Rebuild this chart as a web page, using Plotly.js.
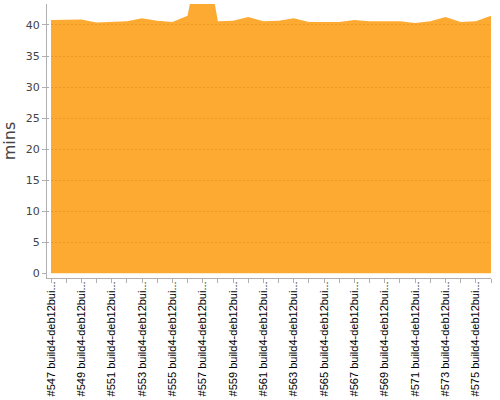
<!DOCTYPE html>
<html>
<head>
<meta charset="utf-8">
<script src="https://cdn.plot.ly/plotly-3.0.1.min.js"></script>
<style>html,body{margin:0;padding:0;background:#fff;}#chart{width:500px;height:400px;}</style>
</head>
<body>
<div id="chart"></div>
<script>
var builds = [547,548,549,550,551,552,553,554,555,556,557,558,559,560,561,562,563,564,565,566,567,568,569,570,571,572,573,574,575,576];
var minutes = [40.8,40.9,40.9,40.4,40.5,40.6,41.1,40.7,40.5,41.5,54,40.6,40.7,41.3,40.6,40.7,41.1,40.5,40.5,40.5,40.8,40.6,40.6,40.6,40.3,40.6,41.3,40.5,40.6,41.5];
var labelSuffix = " build4-deb12bui...";
var gridVals = [5,10,15,20,25,30,35,40];

var idx = builds.map(function(b, i){ return i; });
var tickText = builds.map(function(b, i){ return i % 2 === 0 ? "#" + b + labelSuffix : ""; });

var trace = {
  x: idx,
  y: minutes,
  type: "scatter",
  mode: "lines",
  fill: "tozeroy",
  fillcolor: "rgba(252,149,0,0.8)",
  line: {width: 0, color: "rgba(252,149,0,0.8)"},
  hoverinfo: "skip"
};

var yRange = [-0.757, 43.38];

var layout = {
  width: 500, height: 400,
  margin: {l: 47, r: 9, t: 4, b: 122},
  paper_bgcolor: "#ffffff",
  plot_bgcolor: "#ffffff",
  showlegend: false,
  xaxis: {
    range: [-0.2636, 29],
    tickmode: "array",
    tickvals: idx,
    ticktext: tickText,
    tickangle: -90,
    ticks: "outside",
    ticklen: 4,
    tickcolor: "#b0b0b0",
    showline: true,
    linecolor: "#b0b0b0",
    linewidth: 1,
    showgrid: false,
    zeroline: false,
    ticklabelstandoff: -6,
    tickfont: {family: "Liberation Sans, Arial, sans-serif", size: 11, color: "#000000"}
  },
  yaxis: {
    range: yRange,
    tickmode: "linear",
    tick0: 0,
    dtick: 5,
    ticks: "outside",
    ticklen: 4,
    tickcolor: "#b0b0b0",
    showline: true,
    linecolor: "#b0b0b0",
    linewidth: 1,
    showgrid: false,
    zeroline: false,
    tickfont: {family: "DejaVu Sans, sans-serif", size: 11, color: "#444444"},
    title: {text: "mins", font: {family: "DejaVu Sans, sans-serif", size: 16, color: "#444444"}, standoff: 6}
  },
  yaxis2: {
    range: yRange,
    overlaying: "y",
    side: "left",
    tickmode: "array",
    tickvals: gridVals,
    showticklabels: false,
    ticks: "",
    showline: false,
    showgrid: true,
    gridcolor: "rgb(160,170,190)",
    griddash: "2px,2px",
    gridwidth: 1,
    zeroline: false
  }
};

var gridTrace = {x: [], y: [], yaxis: "y2", type: "scatter", mode: "lines", hoverinfo: "skip"};

Plotly.newPlot("chart", [trace, gridTrace], layout, {staticPlot: true, displayModeBar: false});
</script>
</body>
</html>
